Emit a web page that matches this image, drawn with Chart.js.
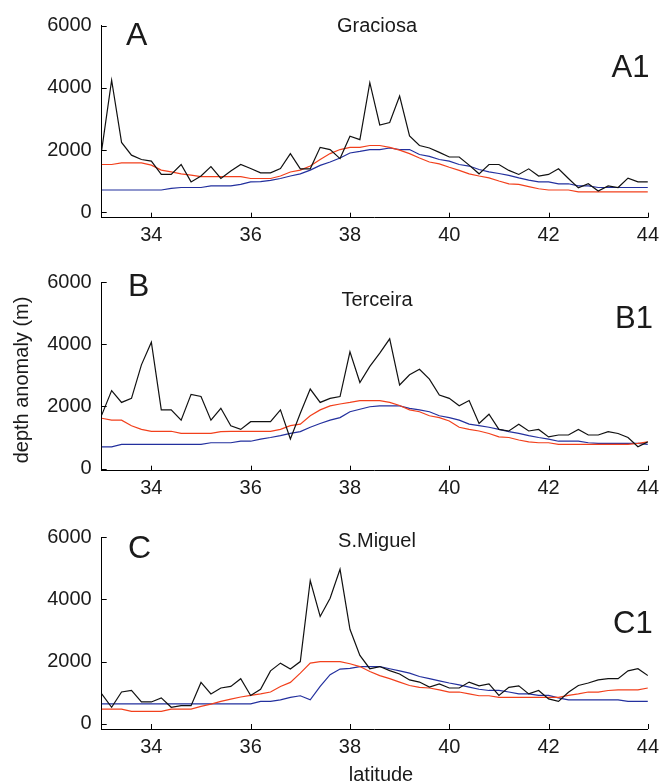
<!DOCTYPE html>
<html>
<head>
<meta charset="utf-8">
<script src="https://cdn.jsdelivr.net/npm/chart.js@4.4.0/dist/chart.umd.min.js"></script>
<style>
  html, body { margin: 0; padding: 0; background: #fff; }
  #wrap { position: relative; width: 665px; height: 784px; }
  #wrap canvas { position: absolute; left: 0; }
</style>
</head>
<body>
<div id="wrap">
  <canvas id="panel-a"></canvas>
  <canvas id="panel-b"></canvas>
  <canvas id="panel-c"></canvas>
</div>
<script>
// latitude samples (every 0.2 deg)
const lat = [
  33.0, 33.2, 33.4, 33.6, 33.8, 34.0, 34.2, 34.4, 34.6, 34.8,
  35.0, 35.2, 35.4, 35.6, 35.8, 36.0, 36.2, 36.4, 36.6, 36.8,
  37.0, 37.2, 37.4, 37.6, 37.8, 38.0, 38.2, 38.4, 38.6, 38.8,
  39.0, 39.2, 39.4, 39.6, 39.8, 40.0, 40.2, 40.4, 40.6, 40.8,
  41.0, 41.2, 41.4, 41.6, 41.8, 42.0, 42.2, 42.4, 42.6, 42.8,
  43.0, 43.2, 43.4, 43.6, 43.8, 44.0,
];
const xTicks = [34, 36, 38, 40, 42, 44];
const yTicks = [0, 2000, 4000, 6000];

// A - Graciosa
const graciosaBlack = [
  2000, 4250, 2250, 1840, 1700, 1650, 1220, 1220, 1540, 980,
  1170, 1470, 1090, 1330, 1540, 1410, 1270, 1270, 1410, 1890,
  1400, 1400, 2090, 2020, 1730, 2450, 2340, 4170, 2810, 2890,
  3740, 2460, 2150, 2070, 1930, 1780, 1780, 1520, 1240, 1540,
  1540, 1350, 1220, 1400, 1170, 1220, 1400, 1090, 790, 920,
  690, 850, 800, 1100, 980, 980,
];
const graciosaRed = [
  1540, 1540, 1590, 1590, 1590, 1520, 1360, 1300, 1240, 1200,
  1150, 1150, 1150, 1150, 1150, 1090, 1090, 1090, 1170, 1300,
  1360, 1490, 1700, 1890, 2020, 2090, 2090, 2150, 2150, 2090,
  2000, 1890, 1750, 1620, 1560, 1450, 1350, 1240, 1170, 1110,
  1010, 920, 900, 830, 760, 720, 720, 720, 660, 660,
  660, 660, 660, 660, 660, 660,
];
const graciosaBlue = [
  720, 720, 720, 720, 720, 720, 720, 770, 800, 800,
  800, 850, 850, 850, 900, 980, 990, 1030, 1090, 1170,
  1240, 1360, 1510, 1620, 1750, 1910, 1960, 2020, 2020, 2070,
  2020, 2020, 1860, 1800, 1700, 1650, 1540, 1490, 1380, 1300,
  1250, 1190, 1110, 1040, 980, 980, 920, 920, 850, 850,
  800, 800, 800, 800, 800, 800,
];

// B - Terceira
const terceiraBlack = [
  1720, 2510, 2130, 2260, 3340, 4070, 1890, 1890, 1560, 2390,
  2320, 1560, 1940, 1380, 1260, 1510, 1510, 1510, 1890, 950,
  1780, 2560, 2130, 2260, 2320, 3760, 2770, 3290, 3720, 4180,
  2690, 3020, 3200, 2880, 2370, 2260, 2020, 2190, 1450, 1750,
  1260, 1210, 1430, 1210, 1260, 1020, 1080, 1080, 1260, 1080,
  1080, 1190, 1130, 1000, 700, 860,
];
const terceiraRed = [
  1620, 1560, 1560, 1380, 1260, 1200, 1200, 1200, 1130, 1130,
  1130, 1130, 1190, 1200, 1200, 1200, 1200, 1200, 1260, 1380,
  1430, 1700, 1890, 2020, 2080, 2130, 2190, 2190, 2190, 2130,
  2030, 1890, 1830, 1700, 1640, 1530, 1330, 1260, 1210, 1130,
  1020, 1000, 920, 860, 830, 830, 780, 780, 780, 780,
  780, 780, 780, 780, 810, 860,
];
const terceiraBlue = [
  700, 700, 780, 780, 780, 780, 780, 780, 780, 780,
  780, 830, 830, 830, 880, 880, 950, 1000, 1060, 1130,
  1190, 1330, 1450, 1560, 1640, 1830, 1910, 1990, 2020, 2020,
  2020, 1940, 1890, 1830, 1700, 1640, 1560, 1430, 1380, 1330,
  1260, 1190, 1130, 1060, 1000, 950, 880, 880, 880, 830,
  810, 810, 810, 810, 810, 780,
];

// C - S.Miguel
const miguelBlack = [
  960, 530, 1020, 1070, 700, 700, 830, 530, 580, 580,
  1330, 960, 1150, 1200, 1450, 910, 1110, 1700, 1950, 1760,
  2000, 4610, 3450, 4040, 4970, 3040, 2200, 1770, 1840, 1710,
  1600, 1410, 1340, 1180, 1280, 1150, 1150, 1340, 1220, 1280,
  910, 1170, 1220, 960, 1070, 800, 720, 1010, 1230, 1310,
  1410, 1450, 1450, 1700, 1770, 1550,
];
const miguelRed = [
  470, 470, 470, 400, 400, 400, 400, 470, 470, 470,
  560, 630, 720, 790, 860, 910, 960, 1020, 1200, 1330,
  1630, 1950, 2000, 2000, 2000, 1930, 1840, 1680, 1550, 1450,
  1340, 1230, 1170, 1150, 1090, 1020, 1020, 960, 900, 900,
  850, 850, 850, 850, 850, 850, 850, 910, 960, 1020,
  1020, 1070, 1090, 1090, 1090, 1150,
];
const miguelBlue = [
  640, 640, 640, 640, 640, 640, 640, 640, 640, 640,
  640, 640, 640, 640, 640, 640, 720, 720, 770, 850,
  900, 770, 1200, 1580, 1760, 1780, 1840, 1840, 1840, 1770,
  1700, 1630, 1520, 1450, 1380, 1310, 1250, 1180, 1110, 1070,
  1070, 1020, 960, 960, 910, 910, 830, 770, 770, 770,
  770, 770, 770, 720, 720, 720,
];

const FONT = "'Liberation Sans', Arial, Helvetica, sans-serif";
const colors = { black: "#111111", red: "#f2401c", blue: "#23309e", text: "#1a1a1a" };

// inward MATLAB-style ticks + free text labels
const panelDecor = {
  id: "panelDecor",
  afterDraw: (chart, _args, opts) => {
    const { ctx, chartArea, scales } = chart;
    ctx.save();
    ctx.strokeStyle = "#000";
    ctx.lineWidth = 1;
    scales.x.ticks.forEach((t) => {
      const px = Math.round(scales.x.getPixelForValue(t.value)) + 0.5;
      ctx.beginPath();
      ctx.moveTo(px, chartArea.bottom);
      ctx.lineTo(px, chartArea.bottom - 5);
      ctx.stroke();
    });
    scales.y.ticks.forEach((t) => {
      const py = Math.round(scales.y.getPixelForValue(t.value)) + 0.5;
      ctx.beginPath();
      ctx.moveTo(chartArea.left, py);
      ctx.lineTo(chartArea.left + 5, py);
      ctx.stroke();
    });
    ctx.fillStyle = colors.text;
    (opts.texts || []).forEach((t) => {
      ctx.save();
      ctx.font = `${t.size}px ${FONT}`;
      ctx.textAlign = t.align || "left";
      ctx.textBaseline = t.baseline || "alphabetic";
      ctx.translate(t.x, t.y - opts.top);
      if (t.rotate) ctx.rotate(t.rotate);
      ctx.fillText(t.text, 0, 0);
      ctx.restore();
    });
    ctx.restore();
  },
};
Chart.register(panelDecor);

const toPoints = (vals) => vals.map((v, i) => ({ x: lat[i], y: v }));

const line = (vals, color) => ({
  data: toPoints(vals),
  borderColor: color,
  borderWidth: 1.2,
  pointRadius: 0,
  tension: 0,
  fill: false,
});

const buildPanel = (id, p) => {
  const canvas = document.getElementById(id);
  canvas.width = 665;
  canvas.height = p.height;
  canvas.style.top = `${p.top}px`;
  new Chart(canvas, {
    type: "line",
    data: {
      datasets: [
        line(p.black, colors.black),
        line(p.red, colors.red),
        line(p.blue, colors.blue),
      ],
    },
    options: {
      responsive: false,
      animation: false,
      events: [],
      layout: { padding: { top: p.areaTop - p.top, right: 12, bottom: 0, left: 0 } },
      scales: {
        x: {
          type: "linear",
          min: 33,
          max: 44,
          afterBuildTicks: (s) => { s.ticks = xTicks.map((v) => ({ value: v })); },
          afterFit: (s) => { s.height = p.top + p.height - p.areaBottom; },
          grid: { display: false, drawTicks: false },
          border: { display: true, color: "#000", width: 1 },
          ticks: {
            padding: 6,
            color: colors.text,
            font: { family: FONT, size: 20 },
            maxRotation: 0,
            callback: (v) => String(v),
          },
        },
        y: {
          min: p.ymin,
          max: 6000,
          afterBuildTicks: (s) => { s.ticks = yTicks.map((v) => ({ value: v })); },
          afterFit: (s) => { s.width = 101.7; },
          grid: { display: false, drawTicks: false },
          border: { display: true, color: "#000", width: 1 },
          ticks: {
            padding: 10,
            color: colors.text,
            font: { family: FONT, size: 20 },
            callback: (v) => String(v),
          },
        },
      },
      plugins: {
        legend: { display: false },
        tooltip: { enabled: false },
        panelDecor: { top: p.top, texts: p.texts },
      },
    },
  });
};

buildPanel("panel-a", {
  top: 0, height: 256, areaTop: 25.7, areaBottom: 217.7, ymin: -170,
  black: graciosaBlack, red: graciosaRed, blue: graciosaBlue,
  texts: [
    { text: "A", x: 126, y: 45, size: 32 },
    { text: "A1", x: 611.5, y: 77, size: 31 },
    { text: "Graciosa", x: 377, y: 32, size: 20, align: "center" },
  ],
});

buildPanel("panel-b", {
  top: 256, height: 256, areaTop: 282.3, areaBottom: 470.7, ymin: -70,
  black: terceiraBlack, red: terceiraRed, blue: terceiraBlue,
  texts: [
    { text: "B", x: 128, y: 296, size: 32 },
    { text: "B1", x: 615, y: 328, size: 31 },
    { text: "Terceira", x: 377, y: 306, size: 20, align: "center" },
    { text: "depth anomaly (m)", x: 22, y: 380, size: 20, align: "center", baseline: "middle", rotate: -Math.PI / 2 },
  ],
});

buildPanel("panel-c", {
  top: 512, height: 272, areaTop: 537.3, areaBottom: 729, ymin: -170,
  black: miguelBlack, red: miguelRed, blue: miguelBlue,
  texts: [
    { text: "C", x: 128, y: 558, size: 32 },
    { text: "C1", x: 613, y: 633, size: 31 },
    { text: "S.Miguel", x: 377, y: 547, size: 20, align: "center" },
    { text: "latitude", x: 381, y: 781, size: 20, align: "center" },
  ],
});
</script>
</body>
</html>
